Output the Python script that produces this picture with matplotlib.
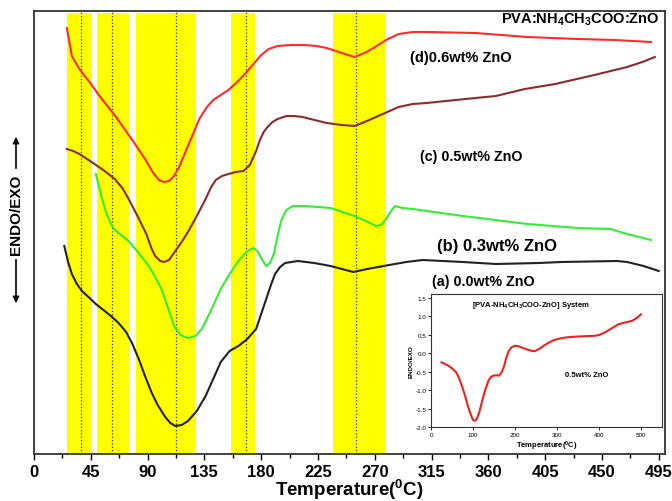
import matplotlib
matplotlib.use('Agg')
import matplotlib.pyplot as plt

plt.rcParams['font.family'] = ['Liberation Sans', 'DejaVu Sans']

# DSC traces (temperature in degC, heat flow in arbitrary units)
t_d = [26, 30, 36, 44, 52, 65, 79, 88, 94, 99, 103, 107, 111, 115, 122, 131, 137, 142, 148, 154,
       161, 167, 174, 180, 186, 193, 204, 214, 224, 232, 244, 254, 262, 269, 279, 289, 300, 311, 350,
       391, 431, 460, 489]
y_d = [426, 398, 385, 372, 358, 337, 312, 295, 282, 274, 272, 273, 278, 287, 308, 335, 347, 354, 359, 364,
       372, 380, 390, 399, 405, 408, 409, 409, 408, 406, 401, 397, 401, 406, 414, 420, 422, 422, 421,
       417, 415, 414, 412]

t_c = [26, 31, 36, 42, 48, 56, 64, 70, 75, 82, 89, 93, 96, 100, 103, 107, 112, 117, 122, 129,
       136, 140, 144, 149, 154, 160, 166, 171, 176, 179, 182, 185, 189, 193, 200, 206, 213, 219, 232,
       244, 254, 262, 271, 289, 300, 311, 342, 366, 389, 413, 444, 470, 482, 492]
y_c = [305, 303, 300, 295, 290, 283, 275, 266, 255, 238, 220, 206, 198, 193, 192, 194, 203, 212, 222, 238,
       255, 266, 274, 278, 280, 282, 283, 289, 303, 314, 322, 327, 332, 335, 338, 338, 337, 335, 331,
       329, 328, 332, 337, 347, 350, 351, 355, 358, 365, 370, 379, 387, 392, 397]

t_b = [49, 50, 52, 54, 57, 61, 64, 68, 75, 83, 91, 96, 101, 106, 111, 116, 122, 128, 133, 140,
       148, 155, 162, 169, 174, 177, 181, 184, 187, 190, 193, 196, 200, 205, 215, 235, 254, 263, 271,
       275, 279, 283, 286, 292, 300, 340, 391, 431, 457, 470, 489]
y_b = [280, 275, 265, 255, 242, 230, 224, 220, 213, 201, 188, 177, 165, 147, 128, 119, 116, 118, 125, 143,
       165, 180, 193, 203, 206, 203, 194, 188, 191, 200, 218, 234, 244, 248, 248, 246, 238, 233, 228,
       229, 235, 243, 248, 246, 245, 238, 230, 226, 225, 220, 214]

t_a = [24, 27, 30, 34, 38, 44, 49, 55, 61, 67, 73, 78, 83, 88, 93, 98, 104, 108, 112, 117,
       122, 129, 136, 142, 148, 155, 162, 169, 176, 180, 184, 188, 191, 195, 199, 209, 222, 235, 244,
       253, 264, 277, 295, 308, 340, 366, 400, 418, 462, 470, 483, 495]
y_a = [208, 192, 180, 170, 163, 156, 150, 144, 138, 131, 122, 110, 95, 78, 62, 49, 37, 31, 28, 29,
       33, 43, 58, 75, 92, 103, 108, 115, 125, 140, 155, 170, 180, 187, 191, 193, 191, 188, 185,
       182, 185, 188, 192, 194, 192, 190, 191, 192, 193, 192, 188, 183]

# highlighted temperature ranges and peak markers
bands = [(26, 45.6), (49.6, 75.5), (81, 128), (156, 175.5), (237, 279)]
peaks = [37.4, 61.7, 112.7, 167.8, 255.5]

# inset: 0.5 wt% ZnO full trace
t_in = [25, 40, 50, 60, 66, 74, 82, 88, 94, 98, 101, 105, 109, 115, 121, 129, 137, 143, 149, 156,
        162, 168, 173, 179, 185, 192, 200, 208, 216, 228, 240, 246, 252, 260, 268, 280, 292, 305,
        319, 335, 351, 370, 391, 400, 414, 430, 446, 462, 478, 490, 500]
y_in = [-0.25, -0.33, -0.41, -0.52, -0.65, -0.90, -1.19, -1.44, -1.64, -1.76, -1.82, -1.83, -1.78, -1.60,
        -1.33, -1.00, -0.74, -0.64, -0.61, -0.60, -0.61, -0.52, -0.39, -0.14, 0.06, 0.16, 0.20, 0.19,
        0.15, 0.10, 0.06, 0.05, 0.08, 0.13, 0.20, 0.28, 0.35, 0.39, 0.42, 0.44, 0.45, 0.46, 0.47, 0.49,
        0.56, 0.67, 0.78, 0.83, 0.87, 0.95, 1.05]

fig = plt.figure(figsize=(6.72, 5.02), dpi=100)
ax = fig.add_axes([34/672, 1-455/502, 631/672, 443/502])

for lo, hi in bands:
    ax.axvspan(lo, hi, ymin=0, ymax=0.995, color='#ffff00', lw=0, zorder=0)
for p in peaks:
    ax.axvline(p, color='#333333', ls=':', lw=0.9, zorder=1)

ax.plot(t_d, y_d, color='#ff2a2a', lw=1.5)
ax.plot(t_c, y_c, color='#8b2c2c', lw=1.5)
ax.plot(t_b, y_b, color='#33ee33', lw=1.5)
ax.plot(t_a, y_a, color='#222222', lw=1.5)

ax.set_xlim(0, 500)
ax.set_ylim(0, 443)
ax.set_xticks(range(0, 496, 45))
ax.set_xticks([22.5 + 45*i for i in range(11)], minor=True)
ax.set_yticks([])
ax.tick_params(axis='x', which='major', direction='out', length=4, width=1, labelsize=12, pad=3)
ax.tick_params(axis='x', which='minor', direction='out', length=3, width=1)
for lab in ax.get_xticklabels():
    lab.set_fontweight('bold')
for s in ax.spines.values():
    s.set_color('#333333')
    s.set_linewidth(1.3)
ax.set_xlabel('Temperature($\\mathregular{^0}$C)', fontsize=13.5, fontweight='bold', labelpad=-1)

ax.text(496, 435, 'PVA:NH$_\\mathregular{4}$CH$_\\mathregular{3}$COO:ZnO', ha='right', va='center',
        fontsize=10.5, fontweight='bold')
ax.text(298, 397, '(d)0.6wt% ZnO', va='center', fontsize=10.5, fontweight='bold')
ax.text(306, 298, '(c) 0.5wt% ZnO', va='center', fontsize=10.3, fontweight='bold')
ax.text(319, 208, '(b) 0.3wt% ZnO', va='center', fontsize=12, fontweight='bold')
ax.text(315, 173, '(a) 0.0wt% ZnO', va='center', fontsize=10.3, fontweight='bold')

# y label with arrows
fig.text(16/672, 1-215/502, 'ENDO/EXO', rotation=90, ha='center', va='center',
         fontsize=11, fontweight='bold')
ax.annotate('', xy=(16/672, 1-135/502), xytext=(16/672, 1-172/502), xycoords='figure fraction',
            arrowprops=dict(arrowstyle='-|>', color='black', lw=1.2, mutation_scale=9))
ax.annotate('', xy=(16/672, 1-307/502), xytext=(16/672, 1-258/502), xycoords='figure fraction',
            arrowprops=dict(arrowstyle='-|>', color='black', lw=1.2, mutation_scale=9))

# inset
ins = fig.add_axes([431/672, 1-428/502, 231/672, 133/502])
ins.plot(t_in, y_in, color='#ee2222', lw=1.5)
ins.set_xlim(0, 550)
ins.set_ylim(-2.0, 1.6)
ins.set_xticks(range(0, 501, 100))
yt = [-2.0, -1.5, -1.0, -0.5, 0.0, 0.5, 1.0, 1.5]
ins.set_yticks(yt)
ins.set_yticklabels(['%.1f' % v for v in yt])
ins.tick_params(labelsize=4.5, length=2, width=0.6, pad=1.5)
for s in ins.spines.values():
    s.set_linewidth(0.8)
    s.set_color('#333333')
ins.set_xlabel('Temperature($\\mathregular{^0}$C)', fontsize=5.5, fontweight='bold', labelpad=1)
ins.set_ylabel('ENDO/EXO', fontsize=4.5, fontweight='bold', labelpad=1)
ins.text(239, 1.32, '[PVA-NH$_\\mathregular{4}$CH$_\\mathregular{3}$COO-ZnO] System', ha='center',
         va='center', fontsize=5.5, fontweight='bold')
ins.text(370, -0.57, '0.5wt% ZnO', ha='center', va='center', fontsize=5.5, fontweight='bold')

fig.savefig('out.png', dpi=100)
